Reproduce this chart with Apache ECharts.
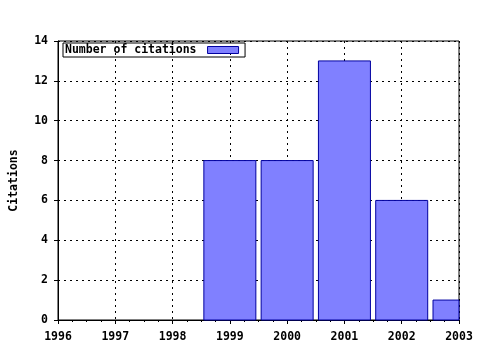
<!DOCTYPE html>
<html><head><meta charset="utf-8">
<script src="https://cdn.jsdelivr.net/npm/echarts@6/dist/echarts.min.js"></script>
<style>html,body{margin:0;padding:0;background:#fff}#c{width:480px;height:350px}</style>
</head><body><div id="c"></div>
<script>
const years = [1999, 2000, 2001, 2002, 2003];
const citations = [8, 8, 13, 6, 1];
const seriesName = 'Number of citations';
const yAxisName = 'Citations';

const font = 'DejaVu Sans Mono';
const chart = echarts.init(document.getElementById('c'), null, {renderer: 'canvas'});
const txt = {fontFamily: font, fontWeight: 'bold', fontSize: 11.5, color: '#000'};
const barColor = '#8080ff', barBorder = '#0000a0';
chart.setOption({
  animation: false,
  backgroundColor: '#fff',
  grid: {left: 57, right: 21, top: 41, bottom: 30, show: true, borderColor: '#000', borderWidth: 1},
  legend: {
    left: 63, top: 43, align: 'right', orient: 'horizontal',
    borderColor: '#000', borderWidth: 1, borderRadius: 0,
    padding: [1, 6, 1, 2],
    itemWidth: 31, itemHeight: 7,
    textStyle: Object.assign({}, txt, {padding: [0, 6, 0, 0]}),
    data: [{name: seriesName, icon: 'rect', itemStyle: {color: barColor, borderColor: barBorder, borderWidth: 1}}]
  },
  xAxis: [{
    type: 'value', min: 1996, max: 2003, interval: 1, position: 'bottom',
    axisLine: {show: true, onZero: false, lineStyle: {color: '#000'}},
    axisTick: {show: true, inside: false, length: 4, lineStyle: {color: '#000'}},
    minorTick: {show: true, splitNumber: 4, length: 2, lineStyle: {color: '#000'}},
    axisLabel: Object.assign({}, txt, {margin: 11, formatter: v => String(v)}),
    splitLine: {show: true, lineStyle: {color: '#000', type: [2, 4], width: 1}}
  }, {
    type: 'value', min: 1996, max: 2003, interval: 1, position: 'top',
    axisLine: {show: true, lineStyle: {color: '#000'}},
    axisTick: {show: true, inside: true, length: 4, lineStyle: {color: '#000'}},
    minorTick: {show: true, splitNumber: 4, length: 2, lineStyle: {color: '#000'}},
    axisLabel: {show: false},
    splitLine: {show: false}
  }],
  yAxis: {
    type: 'value', min: 0, max: 14, interval: 2,
    name: yAxisName, nameLocation: 'middle', nameGap: 38, nameRotate: 90,
    nameTextStyle: txt,
    axisLine: {show: true, lineStyle: {color: '#000'}},
    axisTick: {show: true, inside: false, length: 4, lineStyle: {color: '#000'}},
    axisLabel: Object.assign({}, txt, {margin: 10}),
    splitLine: {show: true, lineStyle: {color: '#000', type: [2, 4], width: 1}}
  },
  series: [{
    name: seriesName, type: 'custom', xAxisIndex: 0,
    itemStyle: {color: barColor, borderColor: barBorder, borderWidth: 1},
    renderItem: function (params, api) {
      const top = api.coord([api.value(0), api.value(1)]);
      const base = api.coord([api.value(0), 0]);
      const w = 52;
      const rect = echarts.graphic.clipRectByRect(
        {x: top[0] - w / 2, y: top[1], width: w, height: base[1] - top[1]},
        {x: params.coordSys.x, y: params.coordSys.y, width: params.coordSys.width, height: params.coordSys.height});
      if (!rect) return;
      return {type: 'rect', shape: rect, style: {fill: barColor, stroke: barBorder, lineWidth: 1}};
    },
    encode: {x: 0, y: 1},
    data: years.map((y, i) => [y, citations[i]])
  }]
});
</script></body></html>
